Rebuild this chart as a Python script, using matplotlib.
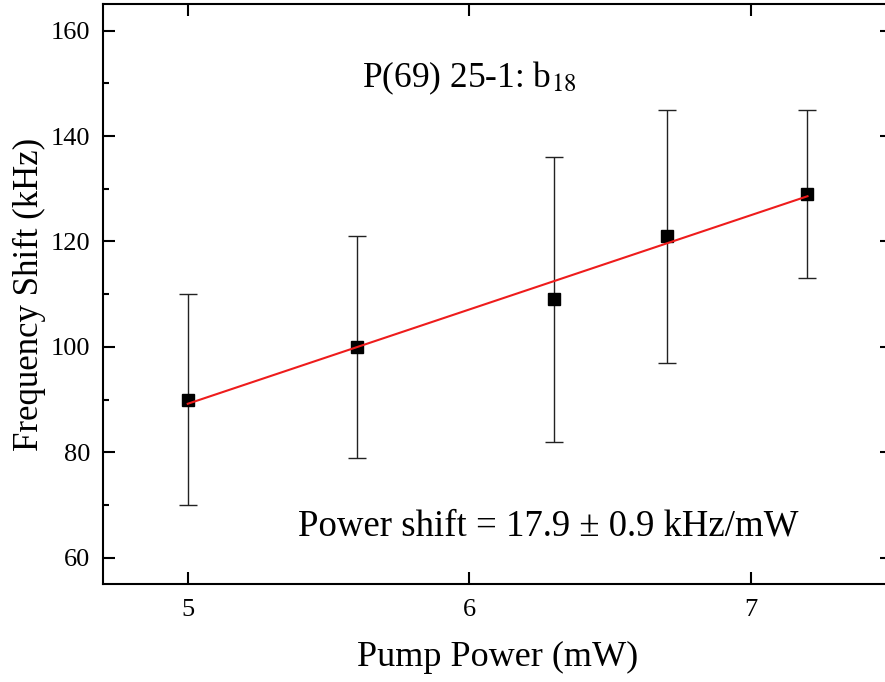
import numpy as np
import matplotlib.pyplot as plt
from matplotlib.ticker import MultipleLocator

# data
pump_power = [5.0, 5.6, 6.3, 6.7, 7.2]
freq_shift = [90, 100, 109, 121, 129]
shift_err = [20, 21, 27, 24, 16]

# linear fit (kHz/mW)
fit_slope = 17.9
fit_intercept = -0.3

plt.rcParams['font.family'] = ['Liberation Serif', 'DejaVu Serif']
plt.rcParams['mathtext.fontset'] = 'stix'

fig = plt.figure(figsize=(8.85, 6.82), dpi=100)
ax = fig.add_axes([0.1167, 0.1437, 0.8912, 0.85])

ax.errorbar(pump_power, freq_shift, yerr=shift_err, fmt='s', color='black',
            ecolor='#222222', elinewidth=1.0, capsize=6.5, capthick=1.0,
            markersize=9, zorder=3)

xfit = np.array([min(pump_power), max(pump_power)])
ax.plot(xfit, fit_slope * xfit + fit_intercept, color='#ee1c1c', lw=1.5, zorder=4)

ax.set_xlim(4.7, 7.5)
ax.set_ylim(55, 165)
ax.xaxis.set_major_locator(MultipleLocator(1))
ax.yaxis.set_major_locator(MultipleLocator(20))
ax.yaxis.set_minor_locator(MultipleLocator(10))

ax.tick_params(which='both', direction='in', top=True, right=True, width=1.5,
               labelsize=19)
ax.tick_params(which='major', length=8.5)
ax.tick_params(axis='y', which='major', pad=9.5)
ax.tick_params(axis='x', which='major', pad=11)
ax.tick_params(which='minor', length=4.3)
ax.tick_params(axis='x', which='minor', top=False, bottom=False)
for s in ax.spines.values():
    s.set_linewidth(1.5)

ax.set_xlabel('Pump Power (mW)', fontsize=26, labelpad=14)
ax.set_ylabel('Frequency Shift (kHz)', fontsize=25, labelpad=3)

ax.text(6.0, 150.9, r'P(69) 25-1: b$_{18}$', fontsize=25.5, ha='center', va='center')
ax.text(6.28, 65.9, 'Power shift = 17.9 ± 0.9 kHz/mW', fontsize=26.5,
        ha='center', va='center')

fig.savefig('out.png', dpi=100)
